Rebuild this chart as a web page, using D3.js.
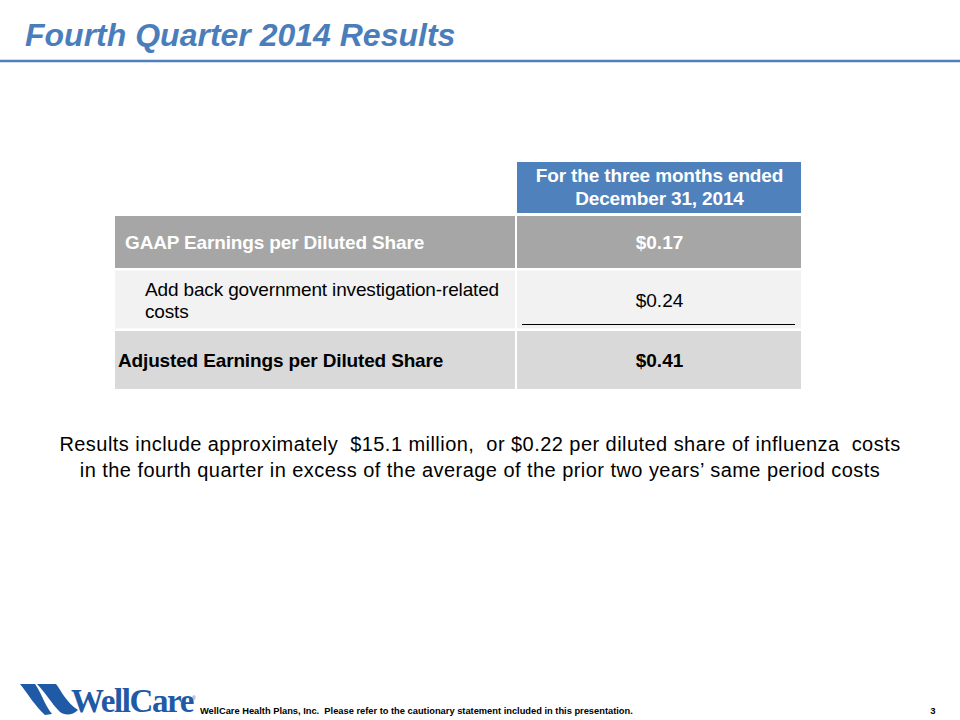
<!DOCTYPE html>
<html>
<head>
<meta charset="utf-8">
<script src="https://cdn.jsdelivr.net/npm/d3@7"></script>
<style>
  body { margin: 0; background: #fff; }
  svg { display: block; font-family: "Liberation Sans", Arial, sans-serif; }
</style>
</head>
<body>
<div id="slide"></div>
<script>
//////////////////////////// data /////////////////////////////////////////

const slideTitle = "Fourth Quarter 2014 Results";
const headerLines = ["For the three months ended", "December 31, 2014"];
const rowKeys = ["gaap", "addback", "adjusted"];
const rowLabels = [
  ["GAAP Earnings per Diluted Share"],
  ["Add back government investigation-related", "costs"],
  ["Adjusted Earnings per Diluted Share"]
];
const rowValues = [0.17, 0.24, 0.41];
const noteLines = [
  "Results include approximately  $15.1 million,  or $0.22 per diluted share of influenza  costs",
  "in the fourth quarter in excess of the average of the prior two years\u2019 same period costs"
];
const footerText = "WellCare Health Plans, Inc.  Please refer to the cautionary statement included in this presentation.";
const pageNumber = "3";

//////////////////////////// sizes ////////////////////////////////////////

const width = 960;
const height = 720;

const table = {
  left: 115,
  split: 516,
  right: 801,
  headerTop: 162,
  headerHeight: 51,
  top: 216,
  rowHeights: [52, 58, 58],
  gap: 2.5
};

const rowStyle = {
  gaap: { fill: "#a6a6a6", color: "#ffffff", weight: "bold", indent: 10 },
  addback: { fill: "#f2f2f2", color: "#000000", weight: "normal", indent: 30 },
  adjusted: { fill: "#d9d9d9", color: "#000000", weight: "bold", indent: 3 }
};

const cellFont = "19px";
const cellSpacing = "-0.15px";
const fmt = d3.format("$.2f");

//////////////////////////// svg //////////////////////////////////////////

const svg = d3.select("#slide").append("svg")
  .attr("width", width)
  .attr("height", height);

// title + rule
svg.append("text")
  .attr("x", 25)
  .attr("y", 46)
  .attr("fill", "#4a7ebb")
  .style("font-size", "32px")
  .style("font-weight", "bold")
  .style("font-style", "italic")
  .text(slideTitle);

svg.append("line")
  .attr("x1", 0).attr("x2", width)
  .attr("y1", 61).attr("y2", 61)
  .attr("stroke", "#4f81bd")
  .attr("stroke-width", 2.5);

//////////////////////////// table ////////////////////////////////////////

// row tops from heights
const rowTops = rowKeys.map((d, i) =>
  table.top + d3.sum(table.rowHeights.slice(0, i)) + i * table.gap);

const yTop = d3.scaleOrdinal().domain(rowKeys).range(rowTops);
const yH = d3.scaleOrdinal().domain(rowKeys).range(table.rowHeights);

const valueX = (table.split + table.right) / 2 + 1;

// header cell
const header = svg.append("g").attr("class", "header");
header.append("rect")
  .attr("x", table.split + 1)
  .attr("y", table.headerTop)
  .attr("width", table.right - table.split - 1)
  .attr("height", table.headerHeight)
  .attr("fill", "#4f81bd");

header.selectAll("text")
  .data(headerLines)
  .join("text")
  .attr("x", valueX)
  .attr("y", (d, i) => table.headerTop + 20 + i * 23)
  .attr("text-anchor", "middle")
  .attr("fill", "#fff")
  .style("font-size", cellFont)
  .style("font-weight", "bold")
  .style("letter-spacing", cellSpacing)
  .text((d) => d);

const rows = svg.selectAll(".row")
  .data(rowKeys)
  .join("g")
  .attr("class", "row")
  .attr("transform", (d) => `translate(0,${yTop(d)})`);

// label cell
rows.append("rect")
  .attr("x", table.left)
  .attr("width", table.split - table.left - 1)
  .attr("height", (d) => yH(d))
  .attr("fill", (d) => rowStyle[d].fill);

// value cell
rows.append("rect")
  .attr("x", table.split + 1)
  .attr("width", table.right - table.split - 1)
  .attr("height", (d) => yH(d))
  .attr("fill", (d) => rowStyle[d].fill);

rows.each(function (d, i) {
  const g = d3.select(this);
  const lines = rowLabels[i];
  const h = yH(d);
  const lh = 22;
  const first = h / 2 + 7 - (lines.length - 1) * lh / 2;

  g.selectAll(".label")
    .data(lines)
    .join("text")
    .attr("class", "label")
    .attr("x", table.left + rowStyle[d].indent)
    .attr("y", (t, j) => first + j * lh)
    .attr("fill", rowStyle[d].color)
    .style("font-size", cellFont)
    .style("font-weight", rowStyle[d].weight)
    .style("letter-spacing", cellSpacing)
    .text((t) => t);

  g.append("text")
    .attr("x", valueX)
    .attr("y", h / 2 + 7)
    .attr("text-anchor", "middle")
    .attr("fill", rowStyle[d].color)
    .style("font-size", cellFont)
    .style("font-weight", rowStyle[d].weight)
    .text(fmt(rowValues[i]));
});

// subtotal rule under the add back value
svg.append("line")
  .attr("x1", 522).attr("x2", 795)
  .attr("y1", yTop("addback") + yH("addback") - 4)
  .attr("y2", yTop("addback") + yH("addback") - 4)
  .attr("stroke", "#000")
  .attr("stroke-width", 1);

//////////////////////////// note /////////////////////////////////////////

svg.selectAll(".note")
  .data(noteLines)
  .join("text")
  .attr("class", "note")
  .attr("x", 480)
  .attr("y", (d, i) => 451 + i * 26)
  .attr("text-anchor", "middle")
  .attr("fill", "#000")
  .style("font-size", "20px")
  .style("letter-spacing", "0.45px")
  .attr("xml:space", "preserve")
  .text((d) => d);

//////////////////////////// footer ///////////////////////////////////////

const logo = svg.append("g").attr("transform", "translate(20,684)");
const blue = "#1f5aa6";
// two swooshes
logo.append("path")
  .attr("d", "M0,0 L15,0 C21,8 24,20 32,30 L25,31 C15,22 8,10 0,0 Z")
  .attr("fill", blue);
logo.append("path")
  .attr("d", "M17,0 L36,0 C42,8 46,18 58,26 C52,32 44,31 40,28 C32,20 25,8 17,0 Z")
  .attr("fill", blue);

svg.append("text")
  .attr("x", 71)
  .attr("y", 712)
  .attr("fill", blue)
  .style("font-family", "'Liberation Serif', 'Times New Roman', serif")
  .style("font-size", "33px")
  .style("font-weight", "bold")
  .style("letter-spacing", "-1.4px")
  .text("WellCare");

svg.append("text")
  .attr("x", 192)
  .attr("y", 700)
  .attr("fill", blue)
  .style("font-size", "5px")
  .text("\u00ae");

svg.append("text")
  .attr("x", 200)
  .attr("y", 714)
  .attr("fill", "#000")
  .style("font-size", "9.3px")
  .style("font-weight", "bold")
  .attr("xml:space", "preserve")
  .text(footerText);

svg.append("text")
  .attr("x", 933)
  .attr("y", 714)
  .attr("text-anchor", "middle")
  .attr("fill", "#000")
  .style("font-size", "9.5px")
  .style("font-weight", "bold")
  .text(pageNumber);
</script>
</body>
</html>
